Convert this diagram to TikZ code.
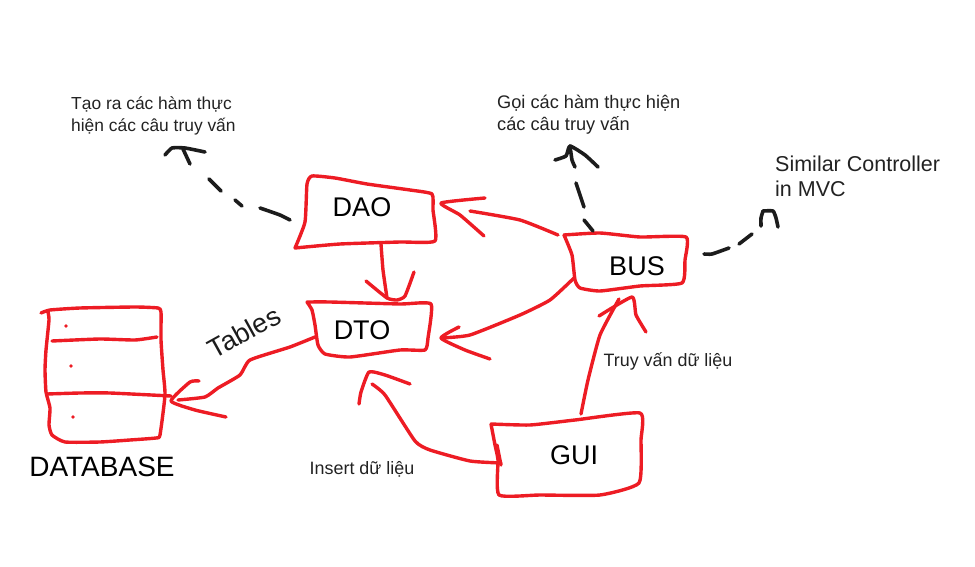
\documentclass[tikz,border=0pt]{standalone}
\usepackage{fontspec}
\setmainfont{Liberation Sans}
\definecolor{penred}{HTML}{ED1C24}
\definecolor{penblack}{HTML}{1C1C1C}
\definecolor{labelgray}{HTML}{222222}
\tikzset{
  redline/.style={draw=penred,line width=3.4pt,line cap=round,line join=round,smooth,tension=0.3},
  blackline/.style={draw=penblack,line width=3.6pt,line cap=round,line join=round,smooth,tension=0.3},
  boxlabel/.style={inner sep=0pt,text=black,font=\fontsize{27}{30}\selectfont},
  note/.style={inner sep=0pt,text=labelgray,align=left,anchor=north west,font=\fontsize{17.4}{22}\selectfont}
}
\begin{document}
\begin{tikzpicture}[x=1pt,y=-1pt]
\useasboundingbox (0,0) rectangle (975,567);
% labels of the boxes
\node[boxlabel] (dao) at (362,207) {DAO};
\node[boxlabel] (dto) at (362,330) {DTO};
\node[boxlabel] (bus) at (637,266) {BUS};
\node[boxlabel] (gui) at (574,455) {GUI};
\node[boxlabel,font=\fontsize{28}{30}\selectfont] (dbname) at (102,467) {DATABASE};
% notes
\node[note] (daonote) at (71,96) {Tạo ra các hàm thực\\hiện các câu truy vấn};
\node[note,font=\fontsize{18.2}{22}\selectfont] (busnote) at (497,95) {Gọi các hàm thực hiện\\các câu truy vấn};
\node[note,font=\fontsize{21.5}{25}\selectfont] (mvcnote) at (775,156) {Similar Controller\\in MVC};
\node[note,anchor=center,font=\fontsize{17.9}{20}\selectfont] (readnote) at (668,361) {Truy vấn dữ liệu};
\node[note,anchor=center,font=\fontsize{17.9}{20}\selectfont] (insertnote) at (362,469) {Insert dữ liệu};
\node[boxlabel,rotate=29,font=\fontsize{27}{30}\selectfont,text=penblack] (tables) at (244,332) {Tables};
% connector ends
\coordinate (daoE) at (441,203);
\coordinate (daoS) at (381,244);
\coordinate (dtoN) at (387,298);
\coordinate (dtoE) at (441,338);
\coordinate (dtoW) at (315,337);
\coordinate (dtoB) at (369,372);
\coordinate (busW) at (558,235);
\coordinate (busL) at (574,278);
\coordinate (busB) at (619,299);
\coordinate (busT) at (593,231);
\coordinate (busR) at (704,254);
\coordinate (guiT) at (581,414);
\coordinate (guiW) at (501,463);
\coordinate (dbE) at (171,401);
\coordinate (daoL) at (290,220);
\coordinate (daotip) at (172,148);
\coordinate (bustip) at (570,146);
\coordinate (mvctip) at (763,211);
% boxes
\draw[redline] plot coordinates {(295,248) (305,222) (307,184) (312,176) (335,178) (367,184) (410,190) (432,194) (433,210) (435,241) (400,242) (340,244) (295,248)};
\draw[redline] plot coordinates {(307,302) (330,302) (400,304) (431,304) (428,338) (425,350) (400,350) (350,357) (325,354) (318,345) (315,325) (312,310) (307,302)};
\draw[redline] plot coordinates {(564,235) (600,233) (640,237) (686,237) (685,260) (682,283) (640,286) (600,291) (580,288) (575,280) (572,255) (564,235)};
\draw[redline] plot coordinates {(491,424) (530,425) (575,420) (640,413) (641,440) (639,483) (600,495) (540,495) (499,495) (498,460) (495,445) (491,424)};
\draw[redline] (497,445) -- (501,465);
% database
\draw[redline] plot coordinates {(41,313) (50,310) (80,308) (135,307) (158,308) (161,312) (161,340) (163,370) (165,395) (160,435) (156,438) (130,440) (100,442) (65,442) (52,435) (49,425) (50,408) (46,392) (45,370) (46,350) (49,320) (48,312)};
\draw[redline] plot coordinates {(52,341) (100,339) (135,340) (157,337)};
\draw[redline] plot coordinates {(47,394) (80,393) (110,393) (171,396)};
\fill[penred] (66,326) circle (1.8) (71,366) circle (1.8) (73,417) circle (1.8);
% red connectors
\draw[redline] plot coordinates {(daoS) (383,270) (dtoN)};
\draw[redline] plot coordinates {(366,281) (dtoN) (397,300) (405,296) (414,272)};
\draw[redline] plot coordinates {(busW) (520,220) (470,211)};
\draw[redline] plot coordinates {(485,198) (daoE) (460,215) (484,236)};
\draw[redline] plot coordinates {(busL) (550,300) (520,315) (470,335) (dtoE)};
\draw[redline] plot coordinates {(459,327) (dtoE) (465,350) (490,359)};
\draw[redline] plot coordinates {(guiT) (588,380) (600,335) (busB)};
\draw[redline] plot coordinates {(599,316) (632,297) (636,315) (646,332)};
\draw[redline] plot coordinates {(guiW) (470,461) (430,450) (415,441) (385,395) (372,384)};
\draw[redline] plot coordinates {(359,404) (361,392) (dtoB) (385,375) (410,384)};
\draw[redline] plot coordinates {(dtoW) (290,347) (250,360) (240,375) (218,388) (205,397) (178,400)};
\draw[redline] plot coordinates {(199,381) (190,382) (dbE) (195,410) (226,417)};
% black dashed arrows
\draw[blackline] plot coordinates {(daoL) (280,215) (260,208)};
\draw[blackline] (242,206) -- (235,200);
\draw[blackline] (221,191) -- (209,179);
\draw[blackline] (190,164) -- (183,149);
\draw[blackline] plot coordinates {(165,155) (daotip) (185,148) (205,152)};
\draw[blackline] (busT) -- (584,220);
\draw[blackline] (584,207) -- (576,183);
\draw[blackline] plot coordinates {(575,167) (572,160) (bustip)};
\draw[blackline] plot coordinates {(555,160) (566,156) (bustip) (585,155) (598,167)};
\draw[blackline] plot coordinates {(busR) (712,254) (729,248)};
\draw[blackline] (739,244) -- (752,234);
\draw[blackline] plot coordinates {(761,226) (761,218) (mvctip)};
\draw[blackline] plot coordinates {(mvctip) (773,211) (776,218) (778,227)};
\end{tikzpicture}
\end{document}
